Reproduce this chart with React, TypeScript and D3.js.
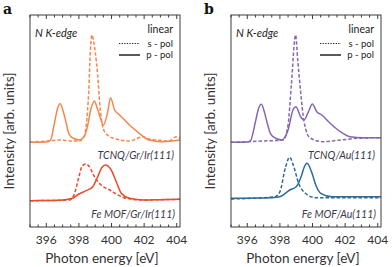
import React from "react";
import * as d3 from "d3";

// ---- data (photon energy [eV], intensity [arb. units]) ----
const xTicksMajor = [396, 398, 400, 402, 404];

const aTcnqP: [number, number][] = [
  [395.0, 84.7], [396.0, 85.0], [396.25, 86.5], [396.5, 104], [396.68, 118], [396.85, 123.3],
  [397.03, 116], [397.2, 105.3], [397.35, 95], [397.5, 90.3], [398.0, 87], [398.3, 90],
  [398.5, 99], [398.75, 119], [398.95, 126], [399.1, 120], [399.26, 112], [399.5, 102],
  [399.77, 115.3], [399.94, 129.3], [400.19, 117], [400.5, 112], [401.1, 102], [401.7, 93.7],
  [402.3, 87], [403.1, 85.3], [404.2, 87],
];
const aTcnqS: [number, number][] = [
  [395.0, 84.7], [396.0, 86], [396.8, 87], [397.5, 86], [398.0, 86], [398.3, 90],
  [398.45, 102], [398.6, 135.3], [398.7, 175.3], [398.8, 192], [398.9, 186], [399.0, 175.3],
  [399.15, 152], [399.3, 119], [399.57, 95.3], [400.08, 89], [401.1, 86], [401.93, 90.3],
  [402.3, 88], [402.76, 87], [403.5, 86], [404.0, 90.3], [404.2, 89],
];
const aMofP: [number, number][] = [
  [395.0, 26.3], [396.0, 26.5], [397.0, 27], [397.6, 28.7], [398.0, 33], [398.44, 36.3],
  [398.85, 40.3], [399.15, 50.3], [399.42, 59.7], [399.63, 62], [399.98, 57], [400.29, 45.3],
  [400.6, 33.7], [401.1, 28.7], [402.0, 27], [403.0, 27.3], [404.2, 27.7],
];
const aMofS: [number, number][] = [
  [395.0, 26.3], [397.4, 27], [397.7, 32], [398.0, 50.3], [398.2, 61], [398.44, 63],
  [398.64, 60.3], [398.95, 50.3], [399.36, 42], [399.9, 37], [400.4, 32], [400.9, 28.7],
  [402.0, 27], [403.0, 27.3], [404.2, 27.7],
];
const bTcnqP: [number, number][] = [
  [395.0, 84.7], [396.0, 85], [396.2, 86.5], [396.5, 105.3], [396.68, 118], [396.86, 122.7],
  [397.03, 116], [397.2, 105.3], [397.38, 95], [397.57, 90.3], [398.1, 87], [398.5, 97],
  [398.8, 117], [398.98, 120.3], [399.27, 110.3], [399.48, 107], [399.75, 115.3], [399.99, 123],
  [400.26, 115.3], [400.57, 112], [401.08, 103.7], [401.7, 95.3], [402.3, 90.3], [403.1, 89.3],
  [404.2, 89.3],
];
const bTcnqS: [number, number][] = [
  [395.0, 84.7], [397.0, 86], [398.2, 87], [398.5, 102], [398.7, 142], [398.96, 192],
  [399.1, 165.3], [399.27, 135.3], [399.48, 105.3], [399.85, 89], [400.65, 85.3], [401.7, 87],
  [402.8, 88.7], [404.2, 89.3],
];
const bMofP: [number, number][] = [
  [395.0, 28.7], [397.0, 29], [398.0, 30.3], [398.6, 37], [399.0, 40.3], [399.3, 50.3],
  [399.5, 60.3], [399.66, 63.7], [399.97, 53.7], [400.2, 42], [400.5, 33.7], [401.2, 30.3],
  [404.2, 30.3],
];
const bMofS: [number, number][] = [
  [395.0, 28], [397.7, 30.3], [398.0, 35.3], [398.35, 60.3], [398.6, 69.7], [398.85, 60.3],
  [399.15, 43.7], [399.56, 33.7], [400.2, 29.3], [404.2, 29.3],
];

const panelLetters = ["a", "b"];
const sampleTop = ["TCNQ/Gr/Ir(111)", "TCNQ/Au(111)"];
const sampleBottom = ["Fe MOF/Gr/Ir(111)", "Fe MOF/Au(111)"];
const colorTop = ["#f5874d", "#8468b0"];
const colorBottom = ["#ec4a2a", "#2c6b9c"];

const FONT = "Lato, 'Open Sans', sans-serif";
const AXIS = "#3c3c3c";

function Panel({ idx, ox }: { idx: number; ox: number }) {
  const left = ox + 30;
  const right = ox + 180;
  const top = 15;
  const bottom = 227;
  const x = d3.scaleLinear().domain([395, 404.2]).range([left, right]);
  const y = d3.scaleLinear().domain([0, 212]).range([bottom, top]);
  const line = d3
    .line<[number, number]>()
    .x((d) => x(d[0]))
    .y((d) => y(d[1]))
    .curve(d3.curveMonotoneX);
  const series = idx === 0
    ? { tp: aTcnqP, ts: aTcnqS, mp: aMofP, ms: aMofS }
    : { tp: bTcnqP, ts: bTcnqS, mp: bMofP, ms: bMofS };
  const ticks = d3.range(395, 404.01, 0.5);
  const textColor = "#3a3a4a";
  return (
    <g>
      <text x={ox + 3} y={14} fontFamily="'DejaVu Serif', serif" fontWeight="bold" fontSize={14} fill="#111">
        {panelLetters[idx]}
      </text>
      {/* curves */}
      <path d={line(series.ts) || ""} fill="none" stroke={colorTop[idx]} strokeWidth={1.5} strokeDasharray="3.5,2" />
      <path d={line(series.tp) || ""} fill="none" stroke={colorTop[idx]} strokeWidth={1.5} />
      <path d={line(series.ms) || ""} fill="none" stroke={colorBottom[idx]} strokeWidth={1.5} strokeDasharray="3.5,2" />
      <path d={line(series.mp) || ""} fill="none" stroke={colorBottom[idx]} strokeWidth={1.5} />
      {/* frame */}
      <rect x={left} y={top} width={right - left} height={bottom - top} fill="none" stroke={AXIS} strokeWidth={1} />
      {ticks.map((t) => {
        const major = Math.abs(t - Math.round(t)) < 1e-6 && Math.round(t) % 2 === 0;
        const len = major ? 4 : 2.5;
        return (
          <g key={t}>
            <line x1={x(t)} x2={x(t)} y1={bottom} y2={bottom - len} stroke={AXIS} strokeWidth={1} />
            <line x1={x(t)} x2={x(t)} y1={top} y2={top + len} stroke={AXIS} strokeWidth={1} />
          </g>
        );
      })}
      {xTicksMajor.map((t) => (
        <text key={t} x={x(t)} y={244} textAnchor="middle" fontFamily={FONT} fontSize={12} fill="#333">
          {t}
        </text>
      ))}
      <text x={(left + right) / 2 - 3} y={263} textAnchor="middle" fontFamily={FONT} fontSize={13.5} fill="#333">
        Photon energy [eV]
      </text>
      <text
        transform={`translate(${ox + 14},${131}) rotate(-90)`}
        textAnchor="middle"
        fontFamily={FONT}
        fontSize={13.5}
        fill="#333"
      >
        Intensity [arb. units]
      </text>
      {/* annotations */}
      <text x={left + 5} y={37} fontFamily={FONT} fontStyle="italic" fontSize={11} fill="#222">
        N K-edge
      </text>
      <text x={right - 7} y={32.5} textAnchor="end" fontFamily={FONT} fontSize={10.5} fill="#222">
        linear
      </text>
      <line x1={left + 89} x2={left + 110} y1={43.5} y2={43.5} stroke="#222" strokeWidth={1.2} strokeDasharray="1.3,1.3" />
      <text x={right - 7} y={46.5} textAnchor="end" fontFamily={FONT} fontSize={9.5} fill="#222">
        s - pol
      </text>
      <line x1={left + 89} x2={left + 110} y1={55} y2={55} stroke="#222" strokeWidth={1.5} />
      <text x={right - 7} y={58} textAnchor="end" fontFamily={FONT} fontSize={9.5} fill="#222">
        p - pol
      </text>
      <text x={right - 6} y={159} textAnchor="end" fontFamily={FONT} fontStyle="italic" fontSize={10.5} fill={textColor}>
        {sampleTop[idx]}
      </text>
      <text x={right - 5} y={218} textAnchor="end" fontFamily={FONT} fontStyle="italic" fontSize={10.5} fill={textColor}>
        {sampleBottom[idx]}
      </text>
    </g>
  );
}

export default function App() {
  return (
    <svg width={392} height={267} style={{ position: "absolute", left: 0, top: 0, background: "#fff" }}>
      <rect width={392} height={267} fill="#fff" />
      <Panel idx={0} ox={0} />
      <Panel idx={1} ox={201} />
    </svg>
  );
}
